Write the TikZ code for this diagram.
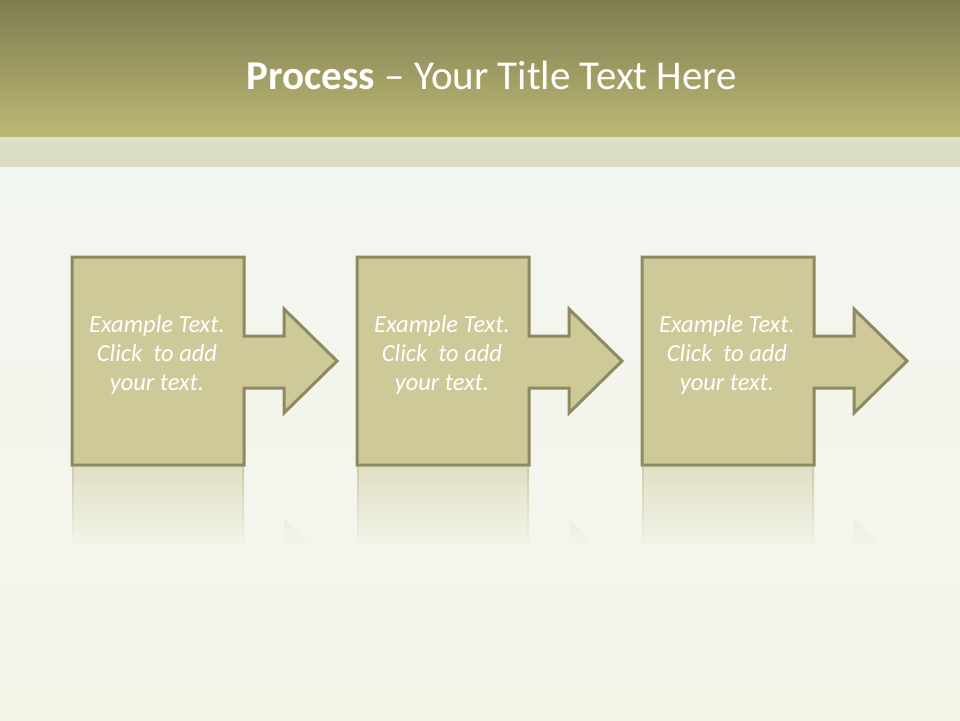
\documentclass[tikz,border=0pt]{standalone}
\usepackage{fontspec}
\setmainfont{Carlito}
\usetikzlibrary{fadings}
\definecolor{titletop}{RGB}{126,125,80}
\definecolor{titlebot}{RGB}{188,184,116}
\definecolor{bandtop}{RGB}{224,224,200}
\definecolor{bandbot}{RGB}{216,218,194}
\definecolor{bodytop}{RGB}{242,246,240}
\definecolor{bodybot}{RGB}{245,244,233}
\definecolor{boxfill}{RGB}{206,201,152}
\definecolor{boxline}{RGB}{143,138,94}
\tikzfading[name=reflfade, top color=transparent!35, bottom color=transparent!100]
\tikzset{
  stepshape/.style={fill=boxfill, draw=boxline, line width=3pt, line join=miter},
  bodytext/.style={align=center, text=white, inner sep=0pt,
    font=\itshape\fontsize{24.5}{28.8}\selectfont},
  titletext/.style={text=white, inner sep=0pt, font=\fontsize{41}{50}\selectfont}
}
\begin{document}
\begin{tikzpicture}[x=1pt,y=-1pt]
\useasboundingbox (0,0) rectangle (960,720);
% background
\shade[top color=bodytop, bottom color=bodybot] (0,166) rectangle (960,720);
\shade[top color=titletop, bottom color=titlebot] (0,0) rectangle (960,137);
\shade[top color=bandtop, bottom color=bandbot] (0,137) rectangle (960,166);
% title
\node[titletext] (title) at (492,75) {\textbf{Process} – Your Title Text Here};
% steps
\foreach \i/\dx in {1/0,2/285,3/570}{
  \begin{scope}[xshift=\dx]
    % reflection
    \begin{scope}
      \clip (72,467) -- (244,467) -- (244,544) -- (284,544) -- (284,519) -- (310,545) -- (72,545) -- cycle;
      \fill[boxfill, path fading=reflfade, opacity=0.75] (72,467) rectangle (337,545);
      \draw[boxline, path fading=reflfade, opacity=0.35, line width=2pt] (73,467) -- (73,545) (243,467) -- (243,545);
    \end{scope}
    % shape
    \path[stepshape] (72,257) -- (244,257) -- (244,336) -- (284,336) -- (284,309)
      -- (337,361) -- (284,413) -- (284,388) -- (244,388) -- (244,465) -- (72,465) -- cycle;
    \node[bodytext] (t\i) at (157,355) {Example Text.\\Click~ to add\\your text.};
  \end{scope}
}
\end{tikzpicture}
\end{document}
